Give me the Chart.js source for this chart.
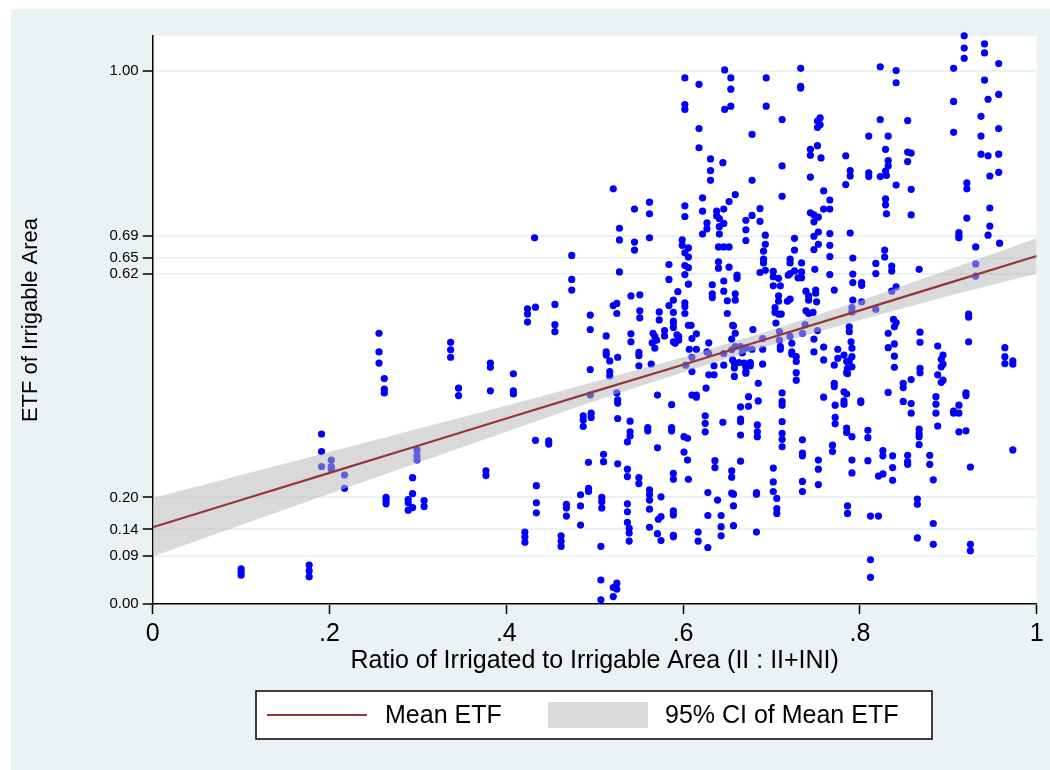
<!DOCTYPE html>
<html>
<head>
<meta charset="utf-8">
<title>ETF of Irrigable Area</title>
<script src="https://cdn.jsdelivr.net/npm/chart.js@4.4.1/dist/chart.umd.min.js"></script>
<style>
  html, body { margin: 0; padding: 0; background: #ffffff; }
  #wrap { width: 1050px; height: 770px; }
</style>
</head>
<body>
<div id="wrap"><canvas id="etfChart" width="1050" height="770"></canvas></div>
<script>
// ratio of irrigated to irrigable area (x) and ETF of irrigable area (y), one entry per site-year
var ratio = [
  .100,.100,.100,.177,.177,.177,.191,.191,.191,.202,.202,.202,
  .217,.217,.256,.256,.256,.262,.262,.262,.264,.264,.264,
  .289,.289,.289,.294,.294,.294,.299,.299,.299,.307,.307,
  .337,.337,.337,.346,.346,.377,.377,.382,.382,.382,.408,.408,.408,
  .521,.545,.562,.562,.562,.432,.528,.528,.528,.545,.545,
  .474,.474,.474,.584,.584,.594,.541,.551,.424,.424,.424,.433,
  .455,.455,.495,.521,.525,.525,.551,.551,.573,.573,.584,.589,.589,.589,
  .455,.495,.513,.541,.541,.566,.568,.565,.568,.570,.579,.579,
  .589,.589,.593,.589,.591,.495,.513,.513,.517,.526,.517,.517,
  .550,.550,.550,.564,.495,.525,.526,.526,.571,.587,
  .487,.487,.487,.496,.496,.526,.540,.540,.540,.537,.560,.560,.587,.587,
  .571,.433,.448,.448,.510,.510,.493,.526,.537,.537,.550,.550,.589,.589,
  .434,.434,.434,.493,.493,.484,.484,.484,.468,.468,.468,
  .508,.508,.508,.537,.537,.537,.562,.562,.562,.562,.562,.575,
  .572,.575,.571,.575,.589,.589,.589,.589,.539,.539,.539,
  .421,.421,.421,.462,.462,.462,.507,.507,.507,.521,.525,.525,.521,
  .602,.602,.602,.618,.647,.654,.654,.654,.647,.694,.694,.733,.733,.733,
  .618,.618,.678,.712,.712,.712,.752,.755,.755,.752,
  .744,.744,.752,.756,.744,.784,.789,.789,.784,.631,.631,.631,.645,.678,
  .602,.602,.622,.622,.622,.627,.627,.638,.638,.641,.641,.646,.641,.646,.652,.659,
  .671,.671,.671,.678,.687,.687,.693,.693,.691,.691,.691,.687,.693,
  .599,.599,.606,.602,.606,.602,.606,.602,.606,
  .640,.646,.652,.640,.640,.652,.661,.661,.646,.646,.633,.633,.633,.650,.659,.659,.650,
  .726,.726,.721,.721,.734,.726,.721,.719,.730,.734,.734,
  .702,.702,.708,.702,.710,.708,.708,.718,.721,.704,.704,.708,.711,
  .744,.748,.748,.753,.759,.766,.766,.759,.748,.753,.753,.748,.766,.766,.766,
  .749,.766,.771,.739,.742,.742,.750,.750,.751,.739,.742,.747,
  .789,.792,.792,.792,.792,.602,.602,.602,.606,.609,.656,
  .610,.615,.595,.595,.607,.615,.610,.610,.603,
  .629,.627,.629,.635,.629,.635,.610,.615,.615,.626,.625,.625,.625,.645,
  .601,.605,.601,.605,.606,.636,.636,.628,.639,.628,.617,.617,.628,
  .643,.643,.643,.655,.655,.655,.657,.657,.657,
  .655,.659,.657,.655,.659,.656,.658,.658,.658,.663,.669,.671,.671,.671,.676,.676,
  .665,.671,.678,.679,.667,.646,.646,
  .685,.685,.674,.674,.665,.665,.665,.665,.665,.684,.684,.684,.683,.683,.683,
  .690,.690,.690,.705,.709,.709,.710,.710,
  .712,.712,.712,.712,.712,.712,.712,.702,.702,.702,.706,.706,.706,
  .723,.723,.723,.728,.728,.728,.728,.721,.735,.738,.752,.748,.748,.759,.759,
  .735,.735,.735,.735,.735,.759,.753,.753,.753,
  .775,.775,.771,.771,.771,.772,.772,.772,.769,.769,
  .782,.785,.786,.785,.786,.782,.785,.782,.782,.785,.785,
  .788,.788,.790,.791,.791,.791,.788,.791,.791,.791,.786,.786,
  .823,.841,.841,.918,.918,.918,.906,.906,.906,
  .941,.941,.941,.957,.945,.957,.937,.957,.937,.937,.945,.957,.947,.957,
  .823,.854,.810,.832,.829,.854,.858,.854,.832,.832,.829,
  .830,.823,.810,.810,.841,.858,.829,.829,.830,.858,
  .921,.921,.921,.912,.912,.912,.931,.947,.947,.945,.958,
  .802,.802,.818,.818,.828,.828,.836,.836,.867,
  .836,.841,.802,.818,.791,.791,.931,.931,.838,.841,.923,.923,
  .839,.832,.832,.839,.839,.839,.868,.868,
  .888,.894,.892,.892,.894,.888,.892,.894,.886,.886,.886,.888,
  .923,.964,.964,.964,.973,.973,
  .868,.868,.858,.849,.849,.832,.849,.858,.858,.801,.801,
  .920,.920,.912,.906,.906,.912,.912,.920,.867,.867,.867,.867,
  .809,.809,.809,.826,.826,.837,.837,.837,.821,.826,.854,.854,.854,.879,.879,.883,
  .973,.925,.865,.865,.812,.821,.883,.865,.883,.925,.925,.812,.812
];
var etf = [
  .066,.060,.054,.073,.062,.051,.319,.286,.258,.270,.258,.253,
  .242,.217,.508,.473,.452,.423,.403,.396,.200,.194,.188,
  .196,.190,.176,.237,.207,.181,.289,.278,.270,.194,.183,
  .491,.477,.463,.405,.391,.250,.241,.452,.444,.400,.432,.400,.394,
  .779,.741,.754,.732,.687,.687,.705,.683,.623,.679,.664,
  .654,.609,.589,.637,.609,.586,.578,.580,.554,.544,.529,.557,
  .562,.524,.542,.560,.564,.545,.550,.537,.548,.533,.560,.570,.547,.531,
  .511,.515,.503,.507,.492,.508,.502,.490,.480,.495,.513,.503,
  .527,.519,.505,.492,.489,.440,.473,.467,.456,.463,.436,.428,
  .472,.466,.447,.450,.392,.396,.383,.377,.392,.374,
  .353,.345,.333,.358,.350,.348,.343,.323,.315,.304,.331,.325,.331,.325,
  .293,.307,.306,.300,.281,.267,.266,.263,.253,.239,.237,.226,.245,.234,
  .222,.190,.171,.217,.211,.205,.184,.148,.187,.180,.165,
  .200,.192,.180,.188,.173,.153,.214,.205,.195,.178,.144,.201,
  .159,.164,.132,.119,.175,.167,.129,.126,.142,.133,.118,
  .135,.126,.116,.128,.118,.108,.108,.045,.008,.031,.039,.028,.014,
  .987,.937,.928,.975,1.002,.987,.966,.934,.928,.987,.934,1.005,.971,.968,
  .892,.856,.881,.909,.822,.765,.906,.912,.899,.894,
  .853,.842,.860,.837,.801,.841,.813,.803,.787,.835,.813,.795,.828,.795,
  .747,.727,.762,.737,.694,.715,.704,.737,.728,.723,.708,.714,.694,.741,.755,.768,
  .720,.702,.682,.729,.742,.718,.692,.675,.662,.647,.640,.622,.626,
  .683,.673,.668,.659,.651,.635,.631,.618,.600,
  .670,.670,.670,.642,.630,.632,.617,.611,.606,.587,.599,.582,.575,.569,.582,.570,.545,
  .686,.664,.647,.640,.640,.625,.620,.617,.612,.612,.623,
  .624,.614,.611,.597,.597,.578,.568,.568,.572,.556,.547,.544,.544,
  .734,.730,.717,.726,.741,.741,.758,.775,.690,.698,.675,.665,.695,.673,.652,
  .628,.618,.589,.587,.578,.570,.589,.583,.567,.550,.545,.547,
  .696,.649,.619,.603,.570,.565,.558,.545,.523,.523,.523,
  .498,.507,.502,.495,.478,.478,.463,.436,.448,
  .490,.473,.470,.447,.430,.430,.392,.392,.388,.405,.353,.339,.323,.341,
  .314,.311,.285,.270,.234,.269,.256,.209,.195,.166,.135,.118,.106,
  .166,.145,.128,.250,.238,.208,.206,.184,.147,
  .497,.508,.522,.477,.483,.458,.452,.443,.427,.453,.452,.445,.436,.433,.453,.447,
  .483,.480,.478,.515,.471,.470,.448,
  .414,.381,.389,.371,.370,.347,.342,.317,.268,.336,.323,.314,.209,.206,.135,
  .498,.478,.450,.527,.511,.495,.483,.478,
  .396,.380,.373,.342,.320,.309,.295,.255,.229,.211,.198,.179,.170,
  .489,.473,.469,.464,.455,.434,.420,.502,.508,.524,.513,.497,.473,.482,.458,
  .308,.283,.278,.230,.211,.388,.270,.253,.224,
  .478,.461,.448,.414,.408,.373,.350,.338,.298,.286,
  .467,.455,.442,.434,.432,.398,.394,.381,.375,.330,.322,
  .520,.511,.492,.480,.464,.445,.456,.314,.270,.246,.184,.170,
  1.008,1.001,.978,1.066,1.043,1.024,1.005,.943,.885,
  1.051,1.034,.983,1.014,.947,.956,.915,.892,.878,.844,.841,.844,.803,.810,
  .909,.907,.878,.878,.853,.848,.846,.830,.832,.822,.812,
  .804,.802,.809,.802,.786,.778,.760,.749,.732,.730,
  .790,.779,.724,.697,.691,.687,.670,.743,.709,.692,.677,
  .603,.598,.639,.620,.664,.651,.634,.625,.628,
  .587,.595,.567,.553,.556,.548,.638,.615,.534,.528,.544,.538,
  .520,.508,.481,.488,.465,.444,.510,.491,
  .484,.467,.459,.445,.450,.430,.416,.420,.389,.375,.358,.334,
  .492,.481,.464,.451,.456,.450,
  .442,.434,.421,.414,.406,.397,.380,.376,.358,.381,.378,
  .396,.391,.373,.362,.358,.358,.323,.325,.328,.320,.314,.299,
  .326,.312,.269,.288,.278,.278,.256,.232,.240,.244,.279,.267,.262,.279,.262,.233,
  .289,.257,.197,.187,.165,.165,.151,.124,.112,.112,.100,.083,.050
];

// fitted mean ETF and its 95% CI
var fitX    = [0, .1, .2, .3, .4, .5, .6, .7, .8, .9, 1];
var fitMean = [.144, .195, .246, .297, .348, .399, .449, .500, .551, .602, .653];
var ciUpper = [.199, .242, .285, .329, .372, .417, .463, .514, .569, .627, .686];
var ciLower = [.089, .148, .207, .265, .323, .381, .435, .486, .533, .578, .620];

// axis ticks
var xTicks = [0, .2, .4, .6, .8, 1];
var yTicks = [0, .09, .14, .20, .62, .65, .69, 1.00];

var FONT = "'Liberation Sans', Arial, Helvetica, sans-serif";
var BG = '#eaf2f3';

function pairs(xs, ys) {
    var out = [];
    var n = Math.min(xs.length, ys.length);
    for (var i = 0; i < n; i++) out.push({x: xs[i], y: ys[i]});
    return out;
}

// light graph region behind a white plot region (Stata look)
var backdrop = {
    id: 'backdrop',
    beforeDraw: function(chart) {
        var ctx = chart.ctx, a = chart.chartArea;
        ctx.save();
        ctx.fillStyle = '#ffffff';
        ctx.fillRect(0, 0, chart.width, chart.height);
        ctx.fillStyle = BG;
        ctx.fillRect(11, 9, chart.width - 11, chart.height - 9);
        ctx.fillStyle = '#ffffff';
        ctx.fillRect(a.left, a.top, a.right - a.left, a.bottom - a.top);
        ctx.restore();
    }
};

// boxed legend under the x axis title
var boxLegend = {
    id: 'boxLegend',
    afterDraw: function(chart) {
        var ctx = chart.ctx;
        var line = chart.data.datasets[3];
        var band = chart.data.datasets[1];
        var top = 691, h = 48, left = 256, right = 932;
        var cy = top + h / 2;
        ctx.save();
        ctx.fillStyle = '#ffffff';
        ctx.fillRect(left, top, right - left, h);
        ctx.strokeStyle = '#000000';
        ctx.lineWidth = 1.5;
        ctx.strokeRect(left, top, right - left, h);

        ctx.strokeStyle = line.borderColor;
        ctx.lineWidth = line.borderWidth;
        ctx.beginPath();
        ctx.moveTo(267, cy);
        ctx.lineTo(367, cy);
        ctx.stroke();

        ctx.fillStyle = '#d9d9d9';
        ctx.fillRect(548, cy - 13, 100, 26);

        ctx.fillStyle = '#000000';
        ctx.font = '25px ' + FONT;
        ctx.textBaseline = 'middle';
        ctx.textAlign = 'left';
        ctx.fillText(line.label, 385, cy + 1);
        ctx.fillText(band.label, 665, cy + 1);
        ctx.restore();
    }
};

var ctx = document.getElementById('etfChart').getContext('2d');
new Chart(ctx, {
    type: 'scatter',
    data: {
        datasets: [{
            type: 'scatter',
            label: 'ETF',
            data: pairs(ratio, etf),
            backgroundColor: '#0000ff',
            borderWidth: 0,
            pointRadius: 3.6,
            pointHoverRadius: 3.6,
            clip: false,
            order: 3
        }, {
            type: 'line',
            label: '95% CI of Mean ETF',
            data: pairs(fitX, ciUpper),
            borderWidth: 0,
            borderColor: 'rgba(0,0,0,0)',
            backgroundColor: 'rgba(183,183,183,0.52)',
            pointRadius: 0,
            fill: '+1',
            tension: 0,
            order: 2
        }, {
            type: 'line',
            label: 'CI lower',
            data: pairs(fitX, ciLower),
            borderWidth: 0,
            borderColor: 'rgba(0,0,0,0)',
            pointRadius: 0,
            fill: false,
            tension: 0,
            order: 2
        }, {
            type: 'line',
            label: 'Mean ETF',
            data: pairs(fitX, fitMean),
            borderColor: '#93363a',
            borderWidth: 2.2,
            pointRadius: 0,
            fill: false,
            tension: 0,
            order: 1
        }]
    },
    options: {
        responsive: false,
        animation: false,
        events: [],
        layout: { padding: { left: 11, top: 36, right: 13.3, bottom: 94 } },
        plugins: {
            legend: { display: false },
            tooltip: { enabled: false }
        },
        scales: {
            x: {
                type: 'linear',
                min: 0,
                max: 1,
                afterBuildTicks: function(s) { s.ticks = xTicks.map(function(v) { return {value: v}; }); },
                afterFit: function(s) { s.height = 72; },
                ticks: {
                    autoSkip: false,
                    maxRotation: 0,
                    padding: 5,
                    color: '#000000',
                    font: { family: FONT, size: 25 },
                    callback: function(v) {
                        if (v === 0) return '0';
                        if (v === 1) return '1';
                        return String(v).replace(/^0/, '');
                    }
                },
                grid: {
                    drawOnChartArea: false,
                    tickLength: 10,
                    tickColor: '#000000',
                    tickWidth: 1.5
                },
                border: { color: '#000000', width: 1.5 },
                title: {
                    display: true,
                    text: 'Ratio of Irrigated to Irrigable Area (II : II+INI)',
                    color: '#000000',
                    font: { family: FONT, size: 25 },
                    padding: { top: 0, bottom: 0 }
                }
            },
            y: {
                type: 'linear',
                min: 0,
                max: 1.0657,
                afterBuildTicks: function(s) { s.ticks = yTicks.map(function(v) { return {value: v}; }); },
                afterFit: function(s) { s.width = 141.7; },
                ticks: {
                    autoSkip: false,
                    padding: 4,
                    color: '#000000',
                    font: { family: FONT, size: 15 },
                    callback: function(v) { return Number(v).toFixed(2); }
                },
                grid: {
                    color: BG,
                    lineWidth: 2,
                    tickLength: 10,
                    tickColor: '#000000',
                    tickWidth: 1.5
                },
                border: { color: '#000000', width: 1.5 },
                title: {
                    display: true,
                    text: 'ETF of Irrigable Area',
                    color: '#000000',
                    font: { family: FONT, size: 22 },
                    padding: { top: 7, bottom: 0 }
                }
            }
        }
    },
    plugins: [backdrop, boxLegend]
});
</script>
</body>
</html>
